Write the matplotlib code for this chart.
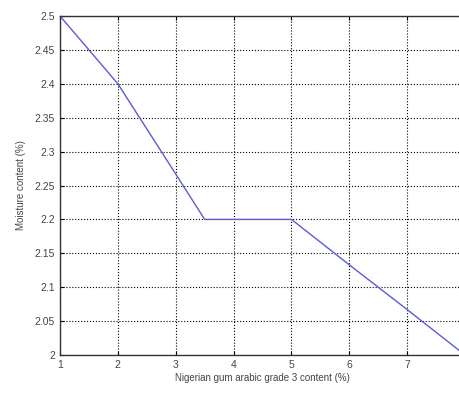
import numpy as np
import matplotlib.pyplot as plt

# gum arabic content vs moisture content
gum_content = [1, 2, 3, 3.5, 5, 6, 7, 8]
moisture = [2.5, 2.4, 2.267, 2.2, 2.2, 2.133, 2.067, 2.0]

x_ticks = [1, 2, 3, 4, 5, 6, 7, 8]
x_labels = ['1', '2', '3', '4', '5', '6', '7', '']  # 8 falls off the picture edge
y_ticks = [2.0, 2.05, 2.1, 2.15, 2.2, 2.25, 2.3, 2.35, 2.4, 2.45, 2.5]
y_labels = ['2', '2.05', '2.1', '2.15', '2.2', '2.25', '2.3', '2.35', '2.4', '2.45', '2.5']

plt.rcParams['font.family'] = ['Liberation Sans', 'DejaVu Sans']

fig = plt.figure(figsize=(4.59, 3.97), dpi=100)
ax = fig.add_axes([60 / 459, 42 / 397, 405 / 459, 339 / 397])

ax.plot(gum_content, moisture, color='#5b5bd6', lw=1.0)

ax.set_xlim(1, 8)
ax.set_ylim(2.0, 2.5)
ax.set_xticks(x_ticks)
ax.set_xticklabels(x_labels)
ax.set_yticks(y_ticks)
ax.set_yticklabels(y_labels)
ax.grid(True, linestyle=':', color='black', lw=0.8)
ax.tick_params(direction='in', top=True, right=True, labelsize=7.5,
               labelcolor='#444444', length=3)
for s in ax.spines.values():
    s.set_color('#333333')
    s.set_linewidth(1.0)

ax.set_xlabel('Nigerian gum arabic grade 3 content (%)', fontsize=7, color='#444444', labelpad=2)
ax.set_ylabel('Moisture content (%)', fontsize=7, color='#444444', labelpad=6)

fig.savefig('out.png', dpi=100)
